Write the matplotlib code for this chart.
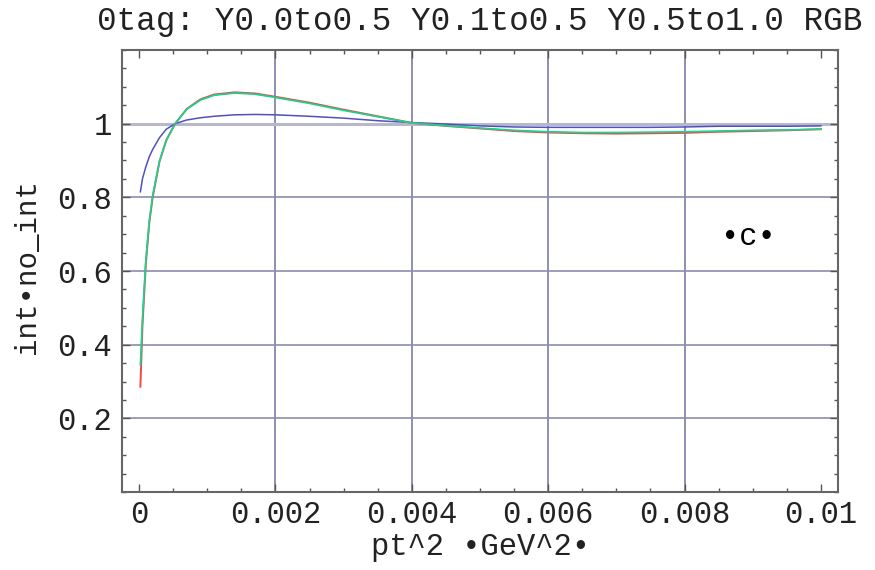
import matplotlib.pyplot as plt
import numpy as np
from matplotlib.ticker import MultipleLocator

# values
pt2 = [0.00002, 0.00005, 0.0001, 0.00015, 0.0002, 0.0003, 0.0004, 0.00053, 0.0007,
       0.0009, 0.0011, 0.0014, 0.0017, 0.002, 0.0025, 0.003, 0.0035, 0.004, 0.0045,
       0.005, 0.0055, 0.006, 0.0065, 0.007, 0.0075, 0.008, 0.0085, 0.009, 0.0095, 0.01]

red = [0.286, 0.45, 0.62, 0.73, 0.80, 0.897, 0.955, 1.0, 1.04,
       1.066, 1.079, 1.085, 1.082, 1.073, 1.057, 1.038, 1.020, 1.002, 0.994,
       0.987, 0.980, 0.976, 0.974, 0.973, 0.974, 0.975, 0.978, 0.980, 0.982, 0.985]

green = [0.345, 0.47, 0.63, 0.735, 0.805, 0.898, 0.955, 1.0, 1.039,
         1.064, 1.077, 1.083, 1.080, 1.071, 1.055, 1.036, 1.019, 1.002, 0.994,
         0.988, 0.982, 0.978, 0.976, 0.976, 0.977, 0.978, 0.980, 0.982, 0.983, 0.985]

blue = [0.815, 0.85, 0.883, 0.91, 0.93, 0.962, 0.985, 1.0, 1.01,
        1.016, 1.020, 1.024, 1.025, 1.024, 1.020, 1.015, 1.008, 1.003, 0.999,
        0.994, 0.991, 0.990, 0.990, 0.990, 0.990, 0.991, 0.993, 0.993, 0.993, 0.994]

title = "0tag: Y0.0to0.5 Y0.1to0.5 Y0.5to1.0 RGB"
mono = "Liberation Mono"

fig = plt.figure(figsize=(8.75, 5.7), dpi=100)
ax = fig.add_axes([0.1394, 0.1368, 0.8183, 0.7755])

# grid lines like the Mathematica frame plot
for gx in [0.002, 0.004, 0.006, 0.008]:
    ax.axvline(gx, color='#7c7ca4', lw=1.2, zorder=1)
for gy in [0.2, 0.4, 0.6, 0.8]:
    ax.axhline(gy, color='#8c8cb0', lw=1.2, zorder=1)
ax.axhline(1.0, color='#b8b8cc', lw=2.2, zorder=1)

ax.plot(pt2, blue, color='#5050c0', lw=1.1, zorder=3)
ax.plot(pt2, red, color='#f04848', lw=1.4, zorder=3)
ax.plot(pt2, green, color='#10d890', lw=1.2, zorder=4)

ax.set_xlim(-0.00025, 0.01025)
ax.set_ylim(0, 1.2)

ax.set_xticks([0, 0.002, 0.004, 0.006, 0.008, 0.01])
ax.set_xticklabels(['0', '0.002', '0.004', '0.006', '0.008', '0.01'])
ax.set_yticks([0.2, 0.4, 0.6, 0.8, 1.0])
ax.set_yticklabels(['0.2', '0.4', '0.6', '0.8', '1'])
ax.xaxis.set_minor_locator(MultipleLocator(0.0005))
ax.yaxis.set_minor_locator(MultipleLocator(0.05))

ax.tick_params(which='both', direction='in', top=True, right=True, color='#555555')
ax.tick_params(which='major', length=6, width=1, labelsize=22, labelcolor='#222222')
ax.tick_params(which='minor', length=3, width=1)
ax.tick_params(axis='x', which='major', pad=6)
ax.tick_params(axis='y', which='major', pad=7)
for lab in ax.get_xticklabels() + ax.get_yticklabels():
    lab.set_family(mono)

for sp in ax.spines.values():
    sp.set_color('#666666')
    sp.set_linewidth(1.5)

ax.text(0.00893, 0.691, "\u2022c\u2022", fontsize=22, family=mono, ha='center', va='center')

fig.text(0.5486, 0.962, title, fontsize=23.5, family=mono, ha='center', va='center', color='#222222')
fig.text(0.5486, 0.040, "pt^2 \u2022GeV^2\u2022", fontsize=22, family=mono, ha='center', va='center', color='#222222')
fig.text(0.031, 0.533, "int\u2022no_int", fontsize=21, family=mono, ha='center', va='center',
         rotation=90, color='#222222')

fig.savefig('out.png', dpi=100)
